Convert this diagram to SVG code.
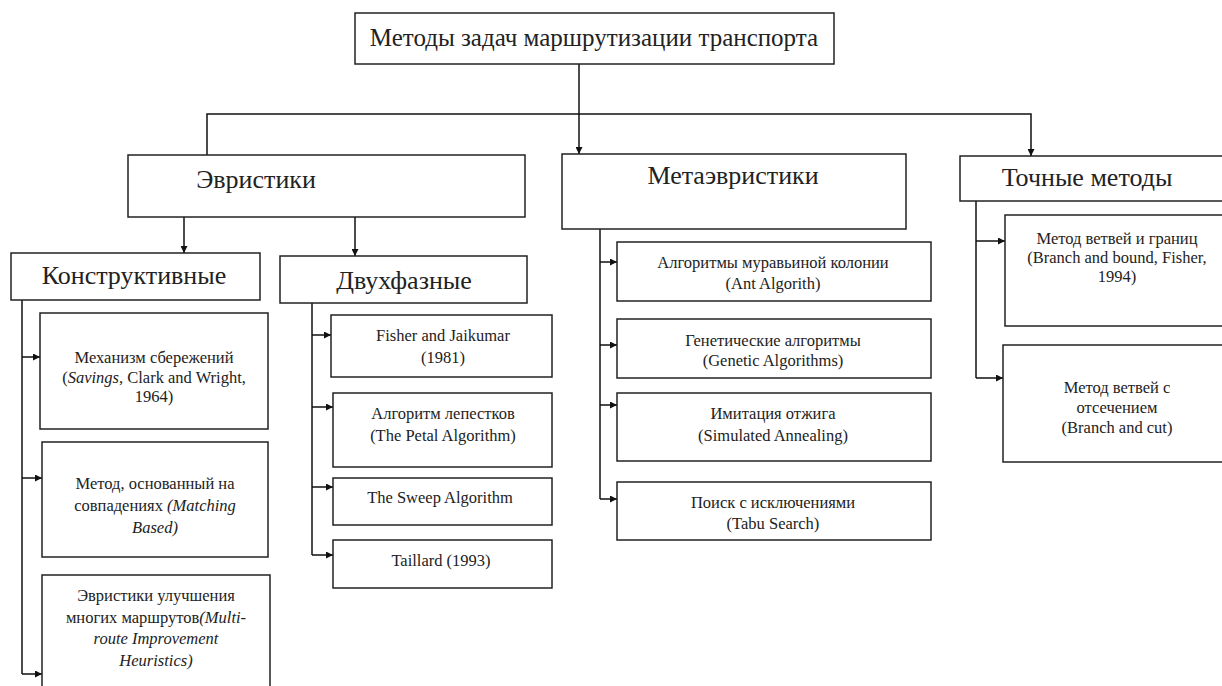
<svg xmlns="http://www.w3.org/2000/svg" width="1222" height="686" viewBox="0 0 1222 686">
<defs>
<marker id="ah" viewBox="0 0 10 10" refX="10" refY="5" markerWidth="7" markerHeight="7" markerUnits="userSpaceOnUse" orient="auto">
<path d="M0,0 L10,5 L0,10 z" fill="#111"/>
</marker>
<style>
rect{fill:#fff;stroke:#222;stroke-width:1.5}
text{font-family:"Liberation Serif","Times New Roman",serif;fill:#222;text-anchor:middle}
.big{font-size:26px}
.ttl{font-size:25px}
.sm{font-size:16.5px}
.c line,.c polyline{stroke:#111;stroke-width:1.5;fill:none}
</style>
</defs>
<rect x="0" y="0" width="1222" height="686" style="fill:#fff;stroke:none"/>
<g class="c" id="connectors">
<line x1="579" y1="64" x2="579" y2="154" marker-end="url(#ah)"/>
<polyline points="207,155 207,114 1031,114 1031,156" marker-end="url(#ah)"/>
<line x1="184" y1="217" x2="184" y2="253" marker-end="url(#ah)"/>
<line x1="355" y1="217" x2="355" y2="256" marker-end="url(#ah)"/>
<line x1="22" y1="300" x2="22" y2="674"/>
<line x1="22" y1="357" x2="40" y2="357" marker-end="url(#ah)"/>
<line x1="22" y1="478" x2="42" y2="478" marker-end="url(#ah)"/>
<line x1="22" y1="674" x2="42" y2="674" marker-end="url(#ah)"/>
<line x1="312" y1="303" x2="312" y2="555"/>
<line x1="312" y1="335" x2="331" y2="335" marker-end="url(#ah)"/>
<line x1="312" y1="407" x2="333" y2="407" marker-end="url(#ah)"/>
<line x1="312" y1="487" x2="333" y2="487" marker-end="url(#ah)"/>
<line x1="312" y1="555" x2="333" y2="555" marker-end="url(#ah)"/>
<line x1="600" y1="229" x2="600" y2="499"/>
<line x1="600" y1="262" x2="617" y2="262" marker-end="url(#ah)"/>
<line x1="600" y1="345" x2="617" y2="345" marker-end="url(#ah)"/>
<line x1="600" y1="405" x2="617" y2="405" marker-end="url(#ah)"/>
<line x1="600" y1="499" x2="617" y2="499" marker-end="url(#ah)"/>
<line x1="976" y1="201" x2="976" y2="378"/>
<line x1="976" y1="241" x2="1005" y2="241" marker-end="url(#ah)"/>
<line x1="976" y1="378" x2="1003" y2="378" marker-end="url(#ah)"/>
</g>
<g id="root"><rect x="355" y="13" width="479" height="51"/><text class="ttl" x="594" y="46">Методы задач маршрутизации транспорта</text></g>
<g id="heur"><rect x="128" y="155" width="397" height="62"/><text class="big" x="256" y="188">Эвристики</text></g>
<g id="meta"><rect x="562" y="154" width="344" height="75"/><text class="big" x="733" y="184">Метаэвристики</text></g>
<g id="exact"><rect x="960" y="156" width="270" height="45"/><text class="big" x="1087" y="186">Точные методы</text></g>
<g id="constr"><rect x="11" y="253" width="249" height="47"/><text class="big" x="134" y="284">Конструктивные</text></g>
<g id="twophase"><rect x="280" y="256" width="247" height="47"/><text class="big" x="404" y="289">Двухфазные</text></g>
<g id="c1"><rect x="40" y="313" width="228" height="116"/><text class="sm" x="154" y="363">Механизм сбережений</text><text class="sm" x="154" y="383">(<tspan font-style="italic">Savings</tspan>, Clark and Wright,</text><text class="sm" x="154" y="402">1964)</text></g>
<g id="c2"><rect x="42" y="442" width="226" height="115"/><text class="sm" x="155" y="489">Метод, основанный на</text><text class="sm" x="155" y="511">совпадениях <tspan font-style="italic">(Matching</tspan></text><text class="sm" x="155" y="533" font-style="italic">Based)</text></g>
<g id="c3"><rect x="42" y="575" width="228" height="130"/><text class="sm" x="156" y="601">Эвристики улучшения</text><text class="sm" x="156" y="623">многих маршрутов<tspan font-style="italic">(Multi-</tspan></text><text class="sm" x="156" y="644" font-style="italic">route Improvement</text><text class="sm" x="156" y="666" font-style="italic">Heuristics)</text></g>
<g id="t1"><rect x="331" y="315" width="221" height="62"/><text class="sm" x="443" y="341">Fisher and Jaikumar</text><text class="sm" x="443" y="363">(1981)</text></g>
<g id="t2"><rect x="333" y="393" width="219" height="74"/><text class="sm" x="443" y="419">Алгоритм лепестков</text><text class="sm" x="443" y="441">(The Petal Algorithm)</text></g>
<g id="t3"><rect x="333" y="478" width="219" height="47"/><text class="sm" x="440" y="503">The Sweep Algorithm</text></g>
<g id="t4"><rect x="333" y="540" width="219" height="48"/><text class="sm" x="441" y="566">Taillard (1993)</text></g>
<g id="m1"><rect x="617" y="242" width="314" height="59"/><text class="sm" x="773" y="268">Алгоритмы муравьиной колонии</text><text class="sm" x="773" y="289">(Ant Algorith)</text></g>
<g id="m2"><rect x="617" y="319" width="314" height="59"/><text class="sm" x="773" y="346">Генетические алгоритмы</text><text class="sm" x="773" y="366">(Genetic Algorithms)</text></g>
<g id="m3"><rect x="617" y="393" width="314" height="68"/><text class="sm" x="773" y="419">Имитация отжига</text><text class="sm" x="773" y="441">(Simulated Annealing)</text></g>
<g id="m4"><rect x="617" y="482" width="314" height="58"/><text class="sm" x="773" y="508">Поиск с исключениями</text><text class="sm" x="773" y="529">(Tabu Search)</text></g>
<g id="e1"><rect x="1005" y="215" width="230" height="111"/><text class="sm" x="1117" y="244">Метод ветвей и границ</text><text class="sm" x="1117" y="263">(Branch and bound, Fisher,</text><text class="sm" x="1117" y="282">1994)</text></g>
<g id="e2"><rect x="1003" y="345" width="232" height="117"/><text class="sm" x="1117" y="393">Метод ветвей с</text><text class="sm" x="1117" y="413">отсечением</text><text class="sm" x="1117" y="433">(Branch and cut)</text></g>
</svg>
